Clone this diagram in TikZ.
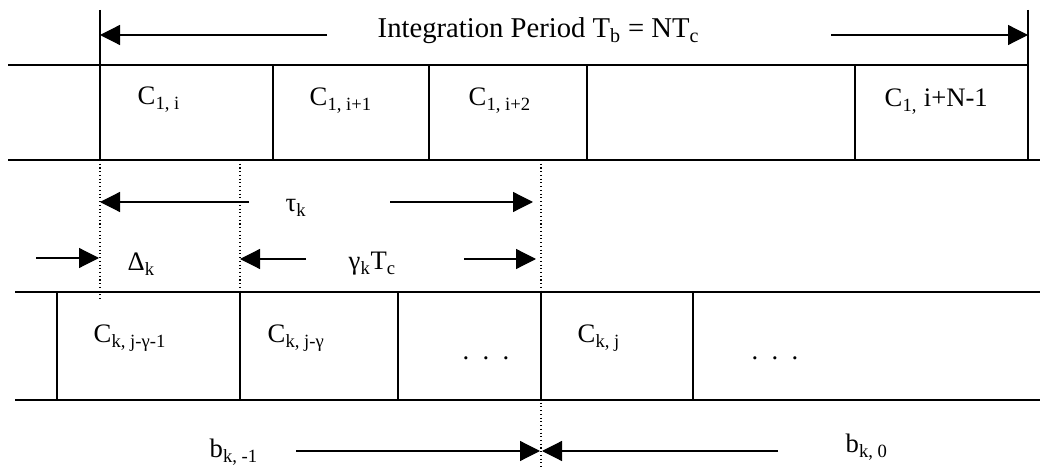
\documentclass[tikz,border=0pt]{standalone}
\usepackage{fontspec}
\setmainfont{Liberation Serif}
\usetikzlibrary{arrows.meta,positioning}

\tikzset{
	dimarrow/.style={-{Triangle[length=15pt,width=15pt]}, line width=0.9pt},
	lbl/.style={font=\fontsize{20}{22}\selectfont, anchor=base west, inner sep=0pt},
	guide/.style={dotted, line width=0.8pt},
}
\newcommand{\lo}[1]{\textsubscript{#1}}

\begin{document}
\begin{tikzpicture}[x=0.75pt, y=-0.75pt, line width=1.1pt]
	\useasboundingbox (0,0) rectangle (1058,470);
	
	% 上行：用户1的码片
	\draw (8,65) -- (1028,65);
	\draw (8,160) -- (1040,160);
	\draw (100,10) -- (100,160);
	\draw (1028,10) -- (1028,160);
	\foreach \x in {273,429,587,855}
		\draw (\x,65) -- (\x,160);
	\node[lbl] (c1i) at (137,105) {C\lo{1, i}};
	\node[lbl] (c1i1) at (309,106) {C\lo{1, i+1}};
	\node[lbl] (c1i2) at (468,106) {C\lo{1, i+2}};
	\node[lbl] (c1iN) at (884,107) {C\lo{1,} i+N-1};
	
	% 积分周期
	\node[lbl, font=\fontsize{21.5}{24}\selectfont] (period) at (377,38) {Integration Period T\lo{b} = NT\lo{c}};
	\coordinate (pl) at (100,35);
	\coordinate (pr) at (1028,35);
	\draw[dimarrow] (327,35) -- (pl);
	\draw[dimarrow] (831,35) -- (pr);
	
	% 辅助虚线
	\draw[guide] (100,160) -- (100,300);
	\draw[guide] (240,160) -- (240,292);
	\draw[guide] (541,160) -- (541,470);
	
	% 时延 tau_k
	\node[lbl] (tau) at (285,212) {τ\lo{k}};
	\coordinate (ta) at (100,202);
	\coordinate (tb) at (533,202);
	\draw[dimarrow] (249,202) -- (ta);
	\draw[dimarrow] (390,202) -- (tb);
	
	% Delta_k 与 gamma_k T_c
	\node[lbl] (delta) at (127,271) {Δ\lo{k}};
	\node[lbl] (gam) at (348,270) {γ\lo{k}T\lo{c}};
	\coordinate (da) at (99,258);
	\coordinate (ga) at (240,259);
	\coordinate (gb) at (536,259);
	\draw[dimarrow] (36,258) -- (da);
	\draw[dimarrow] (306,259) -- (ga);
	\draw[dimarrow] (464,259) -- (gb);
	
	% 下行：用户k的码片
	\draw (15,292) -- (1040,292);
	\draw (15,400) -- (1040,400);
	\foreach \x in {57,240,398,541,693}
		\draw (\x,292) -- (\x,400);
	\node[lbl] (ck1) at (93,343) {C\lo{k, j-γ-1}};
	\node[lbl] (ck2) at (267,343) {C\lo{k, j-γ}};
	\node[lbl] (dots1) at (462,360) {.\ \ .\ \ .};
	\node[lbl] (ckj) at (577,343) {C\lo{k, j}};
	\node[lbl] (dots2) at (751,360) {.\ \ .\ \ .};
	
	% 比特边界
	\node[lbl] (bm1) at (209,458) {b\lo{k, -1}};
	\node[lbl] (b0) at (845,453) {b\lo{k, 0}};
	\coordinate (ba) at (540,451);
	\coordinate (bb) at (542,451);
	\draw[dimarrow] (296,451) -- (ba);
	\draw[dimarrow] (778,451) -- (bb);
\end{tikzpicture}
\end{document}
